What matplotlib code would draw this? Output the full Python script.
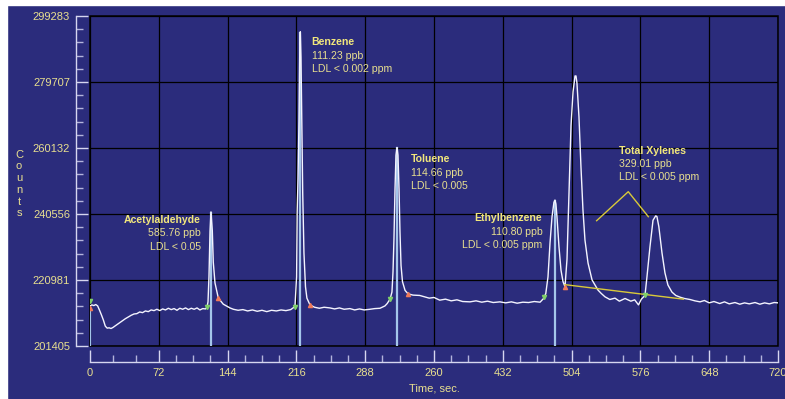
"""Chromatogram of VOC sample (counts vs retention time)."""

import matplotlib
matplotlib.use("Agg")
import matplotlib.pyplot as plt
from matplotlib.patches import Rectangle

# --- data ---
times = [0, 2, 4, 6, 8, 10, 12, 14, 16, 18, 20, 22, 24, 26, 28, 31, 34, 37, 40, 43,
         46, 49, 52, 55, 58, 61, 64, 67, 70, 73, 76, 79, 82, 85, 88, 91, 94, 97, 100,
         103, 106, 109, 112, 115, 118, 121, 122.5,
         123.5, 124.5, 125.6, 126.6, 128.0, 129.0, 130.8, 134.3, 139.5, 146.5, 150,
         155, 160, 165, 170, 175, 180, 185, 190, 195, 200, 205, 210, 214.5,
         216.2, 216.8, 217.7, 218.7, 219.6, 220.1, 220.8, 221.5, 222.6, 223.9, 225.5,
         227.0, 230.2, 235, 240, 245, 251, 256, 261, 266, 272, 277, 282, 287, 293,
         298, 303.5, 308.7,
         311, 314, 316, 317.1, 318.1, 319.2, 320.2, 321.3, 322.3, 323.4, 324.4, 325.5,
         327, 329.7, 332.8, 338, 345, 350, 355, 360, 366, 372, 378, 384, 390, 397.7,
         404, 410, 416, 422, 429, 435, 441, 447, 453, 459, 465, 471, 475,
         477, 479.3, 481.4, 483.5, 485.5, 486.6, 487.6, 488.7, 490.8, 492.9, 495, 497.1,
         499.2, 501.3, 503.4, 505.5, 507.6, 508.6, 509.6, 511.7, 513.8, 515.9, 518,
         521.2, 525.4, 531.6, 535, 538.9, 544, 549.4, 554, 559.9, 566, 570, 574, 577,
         580.8, 582.9, 586, 589.2, 592, 593.3, 595.3, 598.6, 601.7, 604.8, 609, 613,
         617.4, 622, 627.9, 633, 638.4, 643, 648, 653, 659, 664, 669, 675, 680, 685,
         690, 696, 701, 706, 711, 716, 720]
counts = [213300, 213600, 213400, 213700, 213300, 212000, 210600, 209100, 207300, 206700,
          206800, 206600, 206900, 207300, 207700, 208300, 208900, 209500, 210000, 210500,
          210900, 211000, 211500, 211300, 211800, 211600, 212100, 211900, 212300, 211900,
          212400, 212100, 212600, 212200, 212500, 212000, 212600, 212300, 212700, 212200,
          212600, 212300, 212700, 212100, 212500, 212400, 213000,
          214500, 221900, 235400, 241200, 235600, 226300, 220100, 215600, 213800, 212700,
          212300, 212000, 212200, 211800, 212100, 211700, 212000, 211600, 212000, 211800,
          212100, 211900, 212200, 213100,
          221900, 241200, 251000, 268400, 291100, 294600, 287000, 271900, 246800, 229000,
          219000, 215600, 213600, 212900, 212600, 212900, 212700, 212400, 212700, 212300,
          212500, 212100, 212400, 212100, 212300, 212500, 212600, 213300,
          214000, 215300, 217400, 223400, 233200, 248000, 258000, 260300, 258000, 248000,
          235300, 225300, 220500, 217900, 216900, 216500, 216400, 216000, 215600, 215800,
          215000, 215300, 214800, 215100, 214600, 214500, 214800, 214400, 214700, 214300,
          214500, 214200, 214500, 214100, 214400, 214300, 214600, 214400, 215600,
          217000, 221900, 231900, 239700, 244000, 244700, 243500, 239700, 230800, 223900,
          220500, 219000,
          227200, 247000, 266800, 276800, 281500, 281500, 279400, 269400, 254500, 241700,
          232800, 226000, 221000, 218000, 217000, 216000, 215200, 215600, 214700, 215500,
          214700, 215100, 213600, 215300, 216400, 222000, 230800, 238700, 240000, 239800,
          236800, 229000, 223100, 219500, 217400, 216400, 215900, 215500, 215200, 214800,
          214500, 214900, 214200, 214600, 214000, 214500, 213900, 214300, 213800, 214200,
          213900, 214300, 213800, 214200, 213900, 214300, 214200]

# peak apex (drop lines) and integration start/end markers
peak_t = [0, 126.6, 220.1, 321.3, 486.6]
peak_c = [213300, 241200, 294600, 260300, 244700]
start_t = [0, 122.5, 214.5, 314, 475, 580.8]
start_c = [214750, 213000, 213100, 215300, 216000, 216400]
end_t = [0, 134.3, 230.2, 332.8, 497.1]
end_c = [212580, 215600, 213600, 216900, 219000]

# xylene group baseline and callout
xyl_base_t = [497.1, 620.9]
xyl_base_c = [219600, 215300]
callout_t = [530.2, 563.3, 584.3]
callout_c = [238570, 247170, 239760]

# compound labels: (name, amount, LDL, time, counts, alignment)
labels = [
    ("Acetylaldehyde", "585.76 ppb", "LDL < 0.05", 116.2, 238780, "right"),
    ("Benzene", "111.23 ppb", "LDL < 0.002 ppm", 232.0, 291480, "left"),
    ("Toluene", "114.66 ppb", "LDL < 0.005", 335.6, 256780, "left"),
    ("Ethylbenzene", "110.80 ppb", "LDL < 0.005 ppm", 473.3, 239280, "right"),
    ("Total Xylenes", "329.01 ppb", "LDL < 0.005 ppm", 553.9, 259330, "left"),
]

y_ticks = [201405, 220981, 240556, 260132, 279707, 299283]
x_ticks = [0, 72, 144, 216, 288, 360, 432, 504, 576, 648, 720]
x_tick_labels = ["0", "72", "144", "216", "288", "260", "432", "504", "576", "648", "720"]
x_minor = [24, 48] + [t for t in range(90, 720, 18) if t % 72 != 0]

BG = "#2b2c7c"
YEL = "#e8df8f"
TITLE_YEL = "#f2e77c"
AXIS = "#d6d6f0"

plt.rcParams["font.family"] = ["Liberation Sans", "DejaVu Sans"]

fig = plt.figure(figsize=(7.85, 3.99), dpi=100, facecolor=BG)
ax = fig.add_axes([90 / 785, 53 / 399, 688 / 785, 330 / 399])
ax.set_facecolor(BG)

# white border strips of the original screenshot
fig.patches.append(Rectangle((0, 394 / 399), 1, 5 / 399, transform=fig.transFigure,
                             color="white", zorder=5))
fig.patches.append(Rectangle((0, 0), 7 / 785, 1, transform=fig.transFigure,
                             color="white", zorder=5))

ax.set_xlim(0, 720)
ax.set_ylim(y_ticks[0], y_ticks[-1])

ax.vlines(peak_t, y_ticks[0], peak_c, color="#a4c6ea", lw=1.6, zorder=2)
ax.plot(times, counts, color="#f4f4ff", lw=1.0, zorder=3)
ax.plot(xyl_base_t, xyl_base_c, color="#d9c93a", lw=1.0, zorder=4)
ax.plot(callout_t, callout_c, color="#d9c93a", lw=1.0, zorder=4)
ax.plot(start_t, start_c, ls="none", marker="v", ms=3, color="#7fd06a", zorder=5)
ax.plot(end_t, end_c, ls="none", marker="^", ms=3, color="#f07a5a", zorder=5)

for name, amount, ldl, t, c, ha in labels:
    ax.annotate(name, (t, c), ha=ha, va="center", fontsize=7.6, fontweight="bold",
                color=TITLE_YEL, zorder=6)
    ax.annotate(amount, (t, c), xytext=(0, -9.6), textcoords="offset points",
                ha=ha, va="center", fontsize=7.6, color=YEL, zorder=6)
    ax.annotate(ldl, (t, c), xytext=(0, -19.2), textcoords="offset points",
                ha=ha, va="center", fontsize=7.6, color=YEL, zorder=6)

ax.set_yticks(y_ticks)
ax.set_yticklabels([str(v) for v in y_ticks])
step = (y_ticks[1] - y_ticks[0]) / 5
ax.set_yticks([y_ticks[0] + step * k for k in range(26) if k % 5 != 0], minor=True)
ax.set_xticks(x_ticks)
ax.set_xticklabels(x_tick_labels)
ax.set_xticks(x_minor, minor=True)

ax.grid(True, which="major", color="black", lw=0.9)
ax.add_patch(Rectangle((0, 0), 1, 1, transform=ax.transAxes, fill=False,
                       ec="black", lw=1.1, clip_on=False, zorder=1))

for side in ("top", "right"):
    ax.spines[side].set_visible(False)
ax.spines["left"].set_position(("outward", 10))
ax.spines["bottom"].set_position(("outward", 11.5))
for side in ("left", "bottom"):
    ax.spines[side].set_color(AXIS)
    ax.spines[side].set_linewidth(1.0)

ax.tick_params(which="major", direction="in", length=8.6, width=1.0, color=AXIS,
               labelcolor=YEL, labelsize=8)
ax.tick_params(which="minor", direction="in", length=5, width=1.0, color="#b4b4dc")
ax.tick_params(axis="y", which="major", pad=4.3)
ax.tick_params(axis="x", which="major", pad=4.5)

ax.set_xlabel("Time, sec.", color=YEL, fontsize=8, labelpad=3.5)
fig.text(19 / 785, 1 - 184 / 399, "C\no\nu\nn\nt\ns", ha="center", va="center",
         linespacing=1.22, fontsize=8, color=YEL)

fig.savefig("out.png", dpi=100, facecolor=BG)
